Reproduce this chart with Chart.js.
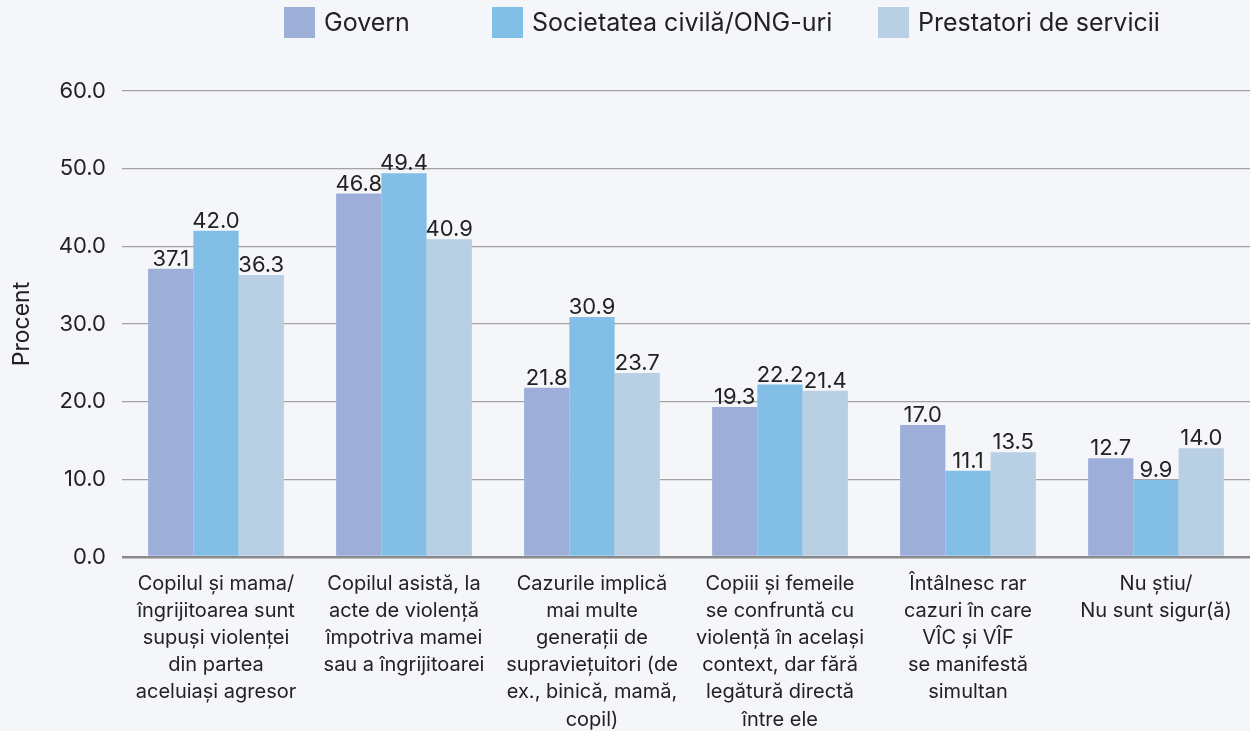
<!DOCTYPE html>
<html lang="ro">
<head>
  <meta charset="UTF-8">
  <title>VÎC și VÎF</title>
  <script src="https://cdn.jsdelivr.net/npm/chart.js"></script>
  <style>
    html, body { margin: 0; padding: 0; background: #f4f6fa; }
    #wrap { position: relative; width: 1250px; height: 731px; }
  </style>
</head>
<body>
  <div id="wrap">
    <canvas id="chart"></canvas>
  </div>

  <script>
    // categories (multi-line labels as in the report)
    const categories = [
      ['Copilul și mama/', 'îngrijitoarea sunt', 'supuși violenței', 'din partea', 'aceluiași agresor'],
      ['Copilul asistă, la', 'acte de violență', 'împotriva mamei', 'sau a îngrijitoarei'],
      ['Cazurile implică', 'mai multe', 'generații de', 'supraviețuitori (de', 'ex., binică, mamă,', 'copil)'],
      ['Copiii și femeile', 'se confruntă cu', 'violență în același', 'context, dar fără', 'legătură directă', 'între ele'],
      ['Întâlnesc rar', 'cazuri în care', 'VÎC și VÎF', 'se manifestă', 'simultan'],
      ['Nu știu/', 'Nu sunt sigur(ă)']
    ];

    const seriesNames = ['Govern', 'Societatea civilă/ONG-uri', 'Prestatori de servicii'];
    const govern     = [37.1, 46.8, 21.8, 19.3, 17.0, 12.7];
    const societate  = [42.0, 49.4, 30.9, 22.2, 11.1, 9.9];
    const prestatori = [36.3, 40.9, 23.7, 21.4, 13.5, 14.0];
    const yTicks = [0, 10, 20, 30, 40, 50, 60];

    const colors = ['#9dafd9', '#83bee6', '#b9cfe3'];
    const textColor = '#222222';
    const FONT = 'Inter, "Noto Sans", sans-serif';

    // value labels above each bar
    const valueLabels = {
      id: 'valueLabels',
      afterDatasetsDraw(chart) {
        const ctx = chart.ctx;
        ctx.save();
        ctx.font = '22px ' + FONT;
        ctx.fillStyle = textColor;
        ctx.textAlign = 'center';
        ctx.textBaseline = 'alphabetic';
        chart.data.datasets.forEach((ds, i) => {
          chart.getDatasetMeta(i).data.forEach((bar, j) => {
            ctx.fillText(ds.data[j].toFixed(1), bar.x, bar.y - 3);
          });
        });
        ctx.restore();
      }
    };

    // legend across the top; item left edges follow the original layout
    const legendX = [284, 492, 878];
    const topLegend = {
      id: 'topLegend',
      afterDraw(chart) {
        const ctx = chart.ctx;
        ctx.save();
        ctx.font = '25px ' + FONT;
        const box = 31, gap = 9, y = 7;
        chart.data.datasets.forEach((ds, i) => {
          ctx.fillStyle = ds.backgroundColor;
          ctx.fillRect(legendX[i], y, box, box);
          ctx.fillStyle = textColor;
          ctx.textAlign = 'left';
          ctx.textBaseline = 'middle';
          ctx.fillText(ds.label, legendX[i] + box + gap, y + box / 2 + 1);
        });
        ctx.restore();
      }
    };

    const ctx = document.getElementById('chart').getContext('2d');
    new Chart(ctx, {
      type: 'bar',
      data: {
        labels: categories,
        datasets: [govern, societate, prestatori].map((d, i) => ({
          label: seriesNames[i],
          data: d,
          backgroundColor: colors[i],
          borderWidth: 0,
          categoryPercentage: 0.722,
          barPercentage: 1.0
        }))
      },
      options: {
        responsive: true,
        maintainAspectRatio: false,
        animation: false,
        layout: { padding: { top: 91, right: 0, left: 0, bottom: 0 } },
        plugins: {
          legend: { display: false },
          tooltip: { enabled: false }
        },
        scales: {
          x: {
            afterFit: scale => { scale.height = 174; },
            grid: { display: false },
            border: { display: false },
            ticks: {
              autoSkip: false,
              maxRotation: 0,
              color: textColor,
              padding: 5,
              font: { family: FONT, size: 20, lineHeight: 1.36 }
            }
          },
          y: {
            min: 0,
            max: 60,
            afterBuildTicks: scale => { scale.ticks = yTicks.map(v => ({ value: v })); },
            afterFit: scale => { scale.width = 122; },
            border: { display: false },
            grid: {
              drawTicks: false,
              color: ctx => ctx.tick && ctx.tick.value === 0 ? '#8a8a8a' : '#a3a3a3',
              lineWidth: ctx => ctx.tick && ctx.tick.value === 0 ? 2.5 : 1.2
            },
            ticks: {
              color: textColor,
              padding: 16,
              font: { family: FONT, size: 22 },
              callback: v => Number(v).toFixed(1)
            },
            title: {
              display: true,
              text: 'Procent',
              color: textColor,
              padding: { top: 8, bottom: 0 },
              font: { family: FONT, size: 23 }
            }
          }
        }
      },
      plugins: [valueLabels, topLegend]
    });
  </script>
</body>
</html>
